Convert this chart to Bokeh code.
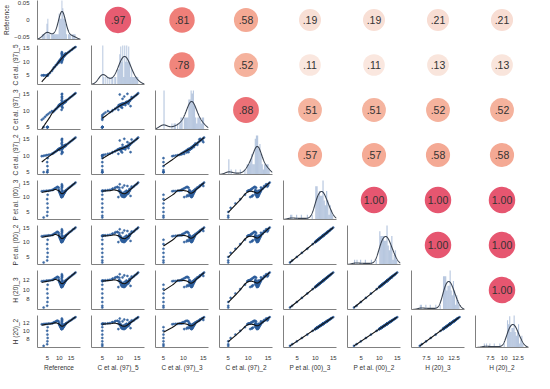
import numpy as np
from bokeh.plotting import figure
from bokeh.layouts import gridplot
from bokeh.models import ColumnDataSource, Range1d, FixedTicker, LinearColorMapper
from bokeh.core.properties import value
from bokeh.embed import file_html
from bokeh.resources import INLINE

# ---------------- data (approximate) ----------------
names = ["Reference", "C et al. (97)_5", "C et al. (97)_3", "C et al. (97)_2",
         "P et al. (00)_3", "P et al. (00)_2", "H (20)_3", "H (20)_2"]

reference = [3.4, 4.9, 5.0, 5.1, 5.0, 4.9, 5.1,
             2.6, 3.3, 4.0, 4.7, 5.4, 6.1, 6.9,
             7.3, 7.7, 8.1, 8.5, 8.9, 9.2, 9.5, 9.8,
             11.0, 11.1, 11.2, 11.2, 11.3, 11.2, 11.1, 11.4, 11.2, 11.3, 11.0, 11.2, 11.1, 11.3, 11.4, 11.2,
             9.8, 9.9, 10.0, 10.1, 10.2, 10.3, 10.4, 10.5, 10.6, 10.7, 10.8, 10.9, 11.0, 11.0, 11.1, 11.1,
             11.3, 11.4, 11.5, 11.6, 11.7, 11.8, 11.9, 12.0, 12.1, 12.2, 12.3, 12.4, 12.5, 12.6, 12.7, 12.8,
             13.2, 13.8, 14.3, 14.8, 15.4, 15.9, 16.4, 16.9]
c97_5 = [5.0, 5.0, 5.0, 5.0, 5.0, 5.0, 5.0,
         5.0, 5.0, 5.0, 5.0, 5.4, 5.9, 6.6,
         7.2, 7.8, 8.0, 8.6, 8.8, 9.3, 9.4, 9.9,
         9.6, 10.0, 10.4, 10.8, 11.0, 11.3, 11.6, 11.9, 12.2, 12.5, 12.8, 13.1, 13.4, 11.5, 10.7, 12.0,
         9.9, 9.7, 10.2, 10.0, 10.4, 10.2, 10.6, 10.4, 10.8, 10.6, 11.0, 10.8, 11.2, 10.9, 11.3, 11.0,
         11.5, 11.3, 11.7, 11.5, 11.9, 11.7, 12.1, 11.9, 12.3, 12.1, 12.5, 12.3, 12.7, 12.5, 12.9, 12.7,
         12.9, 13.3, 13.6, 14.0, 14.3, 14.7, 15.0, 15.3]
c97_3 = [5.0, 5.0, 5.0, 5.0, 5.0, 5.0, 5.0,
         7.2, 7.6, 8.1, 8.6, 9.0, 9.4, 9.8,
         9.5, 9.8, 10.1, 10.4, 10.6, 10.9, 11.1, 11.3,
         10.2, 14.8, 11.0, 13.5, 12.0, 14.2, 11.6, 12.6, 15.0, 12.0, 13.0, 11.3, 14.0, 12.0, 10.8, 12.4,
         11.5, 11.6, 11.4, 11.7, 11.5, 11.8, 11.6, 11.9, 11.7, 12.0, 11.8, 12.0, 12.0, 12.0, 12.1, 12.0,
         12.2, 12.0, 12.3, 12.1, 12.4, 12.2, 12.5, 12.3, 12.6, 12.4, 12.7, 12.5, 12.8, 12.6, 12.9, 12.7,
         13.1, 13.4, 13.7, 14.0, 14.3, 14.6, 14.9, 15.2]
c97_2 = [5.0, 5.0, 5.0, 5.6, 6.8, 8.0, 9.2,
         9.8, 9.9, 10.0, 10.1, 10.2, 10.3, 10.5,
         10.6, 10.8, 11.0, 11.2, 11.4, 11.6, 11.8, 12.0,
         10.5, 14.5, 11.2, 13.2, 12.1, 15.0, 11.8, 12.5, 14.0, 12.2, 13.6, 11.0, 14.8, 12.1, 10.9, 12.7,
         11.8, 11.9, 11.7, 12.0, 11.8, 12.1, 11.9, 12.2, 12.0, 12.3, 12.1, 12.3, 12.2, 12.3, 12.4, 12.3,
         12.5, 12.3, 12.6, 12.4, 12.7, 12.5, 12.8, 12.6, 12.9, 12.7, 13.0, 12.8, 13.1, 12.9, 13.2, 13.0,
         13.3, 13.6, 13.9, 14.2, 14.5, 14.8, 15.1, 15.4]
p00_3 = [3.0, 3.6, 4.9, 6.3, 7.8, 9.3, 10.8,
         12.0, 12.1, 12.1, 12.2, 12.2, 12.3, 12.4,
         12.5, 12.7, 12.9, 13.1, 13.3, 13.5, 13.4, 13.2,
         10.0, 14.4, 10.6, 13.3, 11.5, 14.0, 10.9, 12.2, 13.8, 11.2, 12.8, 10.4, 13.6, 11.8, 10.2, 12.0,
         12.4, 12.2, 12.0, 11.8, 11.6, 11.4, 11.2, 11.0, 10.8, 10.6, 10.4, 10.2, 10.0, 10.3, 10.1, 10.4,
         10.2, 10.4, 10.5, 10.7, 10.8, 11.0, 11.1, 11.3, 11.4, 11.5, 11.7, 11.8, 11.9, 12.1, 12.2, 12.3,
         12.6, 13.0, 13.3, 13.6, 14.0, 14.3, 14.6, 15.0]
p00_2 = [3.0, 3.7, 4.9, 6.3, 7.7, 9.3, 10.8,
         12.0, 12.1, 12.2, 12.2, 12.3, 12.3, 12.4,
         12.5, 12.8, 12.9, 13.1, 13.4, 13.5, 13.4, 13.1,
         10.0, 14.4, 10.6, 13.2, 11.5, 14.0, 10.9, 12.2, 13.8, 11.3, 12.8, 10.4, 13.6, 11.8, 10.2, 12.1,
         12.4, 12.2, 12.1, 11.8, 11.6, 11.4, 11.2, 11.0, 10.8, 10.7, 10.4, 10.2, 10.0, 10.3, 10.1, 10.4,
         10.2, 10.5, 10.5, 10.7, 10.8, 11.0, 11.1, 11.3, 11.4, 11.6, 11.7, 11.8, 11.9, 12.1, 12.2, 12.3,
         12.6, 13.0, 13.4, 13.6, 14.0, 14.4, 14.6, 15.0]
h20_3 = [6.30, 6.66, 7.44, 8.28, 9.18, 10.08, 10.98,
         11.70, 11.76, 11.76, 11.82, 11.82, 11.88, 11.94,
         12.00, 12.12, 12.24, 12.36, 12.48, 12.60, 12.54, 12.42,
         10.50, 13.14, 10.86, 12.48, 11.40, 12.90, 11.04, 11.82, 12.78, 11.22, 12.18, 10.74, 12.66, 11.58, 10.62, 11.70,
         11.94, 11.82, 11.70, 11.58, 11.46, 11.34, 11.22, 11.10, 10.98, 10.86, 10.74, 10.62, 10.50, 10.68, 10.56, 10.74,
         10.62, 10.74, 10.80, 10.92, 10.98, 11.10, 11.16, 11.28, 11.34, 11.40, 11.52, 11.58, 11.64, 11.76, 11.82, 11.88,
         12.06, 12.30, 12.48, 12.66, 12.90, 13.08, 13.26, 13.50]
h20_2 = [6.30, 6.72, 7.44, 8.28, 9.12, 10.08, 10.98,
         11.70, 11.76, 11.82, 11.82, 11.88, 11.88, 11.94,
         12.00, 12.18, 12.24, 12.36, 12.54, 12.60, 12.54, 12.36,
         10.50, 13.14, 10.86, 12.42, 11.40, 12.90, 11.04, 11.82, 12.78, 11.28, 12.18, 10.74, 12.66, 11.58, 10.62, 11.76,
         11.94, 11.82, 11.76, 11.58, 11.46, 11.34, 11.22, 11.10, 10.98, 10.92, 10.74, 10.62, 10.50, 10.68, 10.56, 10.74,
         10.62, 10.80, 10.80, 10.92, 10.98, 11.10, 11.16, 11.28, 11.34, 11.46, 11.52, 11.58, 11.64, 11.76, 11.82, 11.88,
         12.06, 12.30, 12.54, 12.66, 12.90, 13.14, 13.26, 13.50]

# correlation coefficients shown in the upper triangle (row by row)
corr_row0 = [0.97, 0.81, 0.58, 0.19, 0.19, 0.21, 0.21]
corr_row1 = [0.78, 0.52, 0.11, 0.11, 0.13, 0.13]
corr_row2 = [0.88, 0.51, 0.51, 0.52, 0.52]
corr_row3 = [0.57, 0.57, 0.58, 0.58]
corr_row4 = [1.00, 1.00, 1.00]
corr_row5 = [1.00, 1.00]
corr_row6 = [1.00]

# axis ticks and axis extents
col_ticks = [[5, 10, 15]] * 6 + [[7.5, 10, 12.5]] * 2
row_ticks = [[-0.05, 0, 0.05]] + [[5, 10, 15]] * 5 + [[8, 10, 12]] * 2
col_limits = [(0.8, 19.0), (1.9, 17.1), (3.0, 16.3), (2.8, 16.1),
              (1.2, 15.9), (1.2, 15.9), (4.8, 14.4), (4.8, 14.4)]
row_limits = [(-0.0586, 0.0557), (1.7, 15.8), (4.3, 16.0), (4.3, 16.0),
              (2.3, 15.7), (2.3, 15.7), (5.9, 13.9), (5.9, 13.9)]

# ---------------- helpers ----------------
data = [np.array(v, dtype=float) for v in
        [reference, c97_5, c97_3, c97_2, p00_3, p00_2, h20_3, h20_2]]
corr_upper = [corr_row0, corr_row1, corr_row2, corr_row3, corr_row4, corr_row5, corr_row6]
n_var = len(names)


def lowess(x, y, frac=2.0 / 3.0, it=3):
    order = np.argsort(x, kind="mergesort")
    xs, ys = x[order], y[order]
    n = len(xs)
    r = int(np.ceil(frac * n))
    delta = np.ones(n)
    yest = np.zeros(n)
    for _ in range(it + 1):
        for i in range(n):
            d = np.abs(xs - xs[i])
            h = max(np.sort(d)[r - 1], 1e-9)
            w = np.clip(d / h, 0, 1)
            w = (1 - w ** 3) ** 3 * delta
            sw = w.sum()
            if sw <= 0:
                yest[i] = ys[i]
                continue
            mx = (w * xs).sum() / sw
            my = (w * ys).sum() / sw
            vx = (w * (xs - mx) ** 2).sum()
            b = (w * (xs - mx) * (ys - my)).sum() / vx if vx > 1e-12 else 0.0
            yest[i] = my + b * (xs[i] - mx)
        res = ys - yest
        s = np.median(np.abs(res))
        if s <= 1e-12:
            break
        u = np.clip(res / (6 * s), -1, 1)
        delta = (1 - u ** 2) ** 2
    return xs, yest


def kde(v, grid):
    n = len(v)
    bw = v.std(ddof=1) * n ** (-0.2)
    z = (grid[:, None] - v[None, :]) / bw
    return np.exp(-0.5 * z ** 2).sum(axis=1) / (n * bw * np.sqrt(2 * np.pi)), bw


# colour scale for the correlation bubbles
stops = [(0.0, (252, 241, 236)), (0.2, (248, 222, 212)), (0.55, (245, 174, 152)),
         (0.8, (240, 130, 122)), (1.0, (230, 86, 112))]
palette = []
for k in range(256):
    t = k / 255
    for (t0, c0), (t1, c1) in zip(stops[:-1], stops[1:]):
        if t0 <= t <= t1:
            f = (t - t0) / (t1 - t0)
            c = [int(round(a + (b - a) * f)) for a, b in zip(c0, c1)]
            palette.append("#%02x%02x%02x" % tuple(c))
            break
mapper = LinearColorMapper(palette=palette, low=0, high=1)

col_ranges = [Range1d(*lim) for lim in col_limits]
row_ranges = [Range1d(*lim) for lim in row_limits]

FONT = "Liberation Sans"
FW, FH = 53, 39
SPINE = "#808080"
PT = "#2d5e9c"


def style_axes(p, i, j):
    for ax in list(p.xaxis) + list(p.yaxis):
        ax.axis_line_color = SPINE
        ax.major_tick_line_color = None
        ax.minor_tick_line_color = None
        ax.major_label_text_font = FONT
        ax.major_label_text_font_size = "6px"
        ax.major_label_text_color = "#333333"
        ax.major_label_standoff = 2
        ax.axis_label_text_font = FONT
        ax.axis_label_text_font_size = "6.5px"
        ax.axis_label_text_font_style = "normal"
        ax.axis_label_text_color = "#333333"
        ax.axis_label_standoff = 1
    for ax in p.xaxis:
        ax.ticker = FixedTicker(ticks=col_ticks[j] if i == n_var - 1 else [])
        if i == n_var - 1:
            ax.axis_label = names[j]
    for ax in p.yaxis:
        ax.ticker = FixedTicker(ticks=row_ticks[i] if j == 0 else [])
        if j == 0:
            ax.axis_label = names[i]


rows = []
for i in range(n_var):
    row = []
    for j in range(n_var):
        left = 27 if j == 0 else 5
        right = 6
        top = 0 if i == 0 else 3
        bottom = 19 if i == n_var - 1 else 3
        if i < j:
            xr, yr = Range1d(0, 1), Range1d(0, 1)
        elif i == j:
            xr = col_ranges[j]
            yr = row_ranges[0] if i == 0 else Range1d(0, 1)
        else:
            xr, yr = col_ranges[j], row_ranges[i]
        p = figure(width=left + FW + right, height=top + FH + bottom,
                   x_range=xr, y_range=yr, output_backend="svg",
                   toolbar_location=None, min_border_left=left, min_border_right=right,
                   min_border_top=top, min_border_bottom=bottom)
        p.outline_line_color = None
        p.xgrid.visible = False
        p.ygrid.visible = False
        p.background_fill_color = "white"
        p.border_fill_color = "white"

        if i < j:
            p.axis.visible = False
            r = corr_upper[i][j - i - 1]
            txt = ("%.2f" % r)
            if txt.startswith("0"):
                txt = txt[1:]
            src = ColumnDataSource(dict(x=[0.5], y=[0.5], r=[r], s=[21 + 5.5 * abs(r)], t=[txt]))
            p.scatter("x", "y", size="s", source=src, line_color=None,
                      fill_color={"field": "r", "transform": mapper})
            p.text("x", "y", text="t", source=src, text_align="center", text_baseline="middle",
                   text_font=value(FONT), text_font_size="10.5px", text_color="#333333")
        elif i == j:
            v = data[j]
            grid = np.linspace(xr.start, xr.end, 300)
            dens, bw = kde(v, grid)
            mask = (grid >= v.min() - 3 * bw) & (grid <= v.max() + 3 * bw)
            hist, edges = np.histogram(v, bins=36, density=True)
            ytop = max(dens.max() * 1.12, min(hist.max(), dens.max() * 1.35)) * 1.03
            rname = "default"
            if i == 0:
                p.extra_y_ranges = {"d": Range1d(0, ytop)}
                rname = "d"
            else:
                yr.end = ytop
            p.quad(left=edges[:-1], right=edges[1:], bottom=0, top=hist,
                   fill_color="#4c72b0", fill_alpha=0.4, line_color=None, y_range_name=rname)
            p.line(grid[mask], dens[mask], line_color="#3a4453", line_width=1.1, y_range_name=rname)
            style_axes(p, i, j)
        else:
            xv, yv = data[j], data[i]
            p.scatter(xv, yv, size=2.1, fill_color=PT, line_color=PT, line_width=0.5, alpha=0.9)
            lx, ly = lowess(xv, yv)
            p.line(lx, ly, line_color="#111111", line_width=1.1)
            style_axes(p, i, j)
        row.append(p)
    rows.append(row)

grid = gridplot(rows, toolbar_location=None)
open("out.html", "w").write(file_html(grid, INLINE))
